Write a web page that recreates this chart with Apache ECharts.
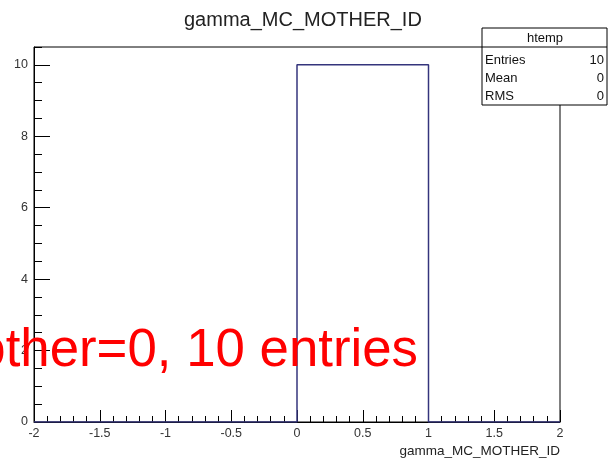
<!DOCTYPE html>
<html>
<head>
<meta charset="utf-8">
<title>gamma_MC_MOTHER_ID</title>
<script src="https://cdn.jsdelivr.net/npm/echarts@6/dist/echarts.min.js"></script>
<style>
  html, body { margin: 0; padding: 0; background: #ffffff; }
  #chart { width: 616px; height: 462px; }
</style>
</head>
<body>
<div id="chart"></div>
<script>
// Histogram "htemp" of gamma_MC_MOTHER_ID: bin low edges and contents
var binEdges = [-2, -1, 0, 1, 2];
var binCounts = [0, 0, 10, 0];

// Statistics box rows
var statsTitle = 'htemp';
var statsLabels = ['Entries', 'Mean', 'RMS'];
var statsValues = ['10', '0', '0'];

var histTitle = 'gamma_MC_MOTHER_ID';
var xTitle = 'gamma_MC_MOTHER_ID';
var note = 'Mother=0, 10 entries';

// Step outline: one point per bin low edge, closed at the last edge
var stepData = [];
for (var i = 0; i < binCounts.length; i++) {
  stepData.push([binEdges[i], binCounts[i]]);
}
stepData.push([binEdges[binEdges.length - 1], 0]);

var FONT = '"Liberation Sans", Arial, Helvetica, sans-serif';
var chart = echarts.init(document.getElementById('chart'), null, { renderer: 'canvas' });

var grid = { left: 34, right: 56, top: 47, bottom: 40 };

var statsGraphic = [
  { type: 'rect', shape: { x: 482, y: 28, width: 125, height: 77 },
    style: { fill: '#ffffff', stroke: '#000000', lineWidth: 1 }, z: 10 },
  { type: 'line', shape: { x1: 482, y1: 47, x2: 607, y2: 47 },
    style: { stroke: '#000000', lineWidth: 1 }, z: 11 },
  { type: 'text', x: 545, y: 38, z: 11,
    style: { text: statsTitle, font: '13px ' + FONT, fill: '#111', align: 'center', verticalAlign: 'middle' } }
];
statsLabels.forEach(function (lab, k) {
  var yy = 60 + k * 18;
  statsGraphic.push({ type: 'text', x: 485, y: yy, z: 11,
    style: { text: lab, font: '13px ' + FONT, fill: '#111', align: 'left', verticalAlign: 'middle' } });
  statsGraphic.push({ type: 'text', x: 604, y: yy, z: 11,
    style: { text: statsValues[k], font: '13px ' + FONT, fill: '#111', align: 'right', verticalAlign: 'middle' } });
});

var option = {
  backgroundColor: '#ffffff',
  animation: false,
  title: {
    text: histTitle,
    left: 179,
    top: 5,
    textStyle: { fontFamily: FONT, fontSize: 20, fontWeight: 'normal', color: '#222' }
  },
  grid: Object.assign({ show: true, borderColor: '#000', borderWidth: 1, backgroundColor: '#fff' }, grid),
  xAxis: {
    type: 'value',
    min: -2, max: 2, interval: 0.5,
    axisLine: { show: true, onZero: false, lineStyle: { color: '#000', width: 1 } },
    axisTick: { show: true, inside: true, length: 12, lineStyle: { color: '#000', width: 1 } },
    minorTick: { show: true, splitNumber: 5, length: 6, lineStyle: { color: '#000', width: 1 } },
    splitLine: { show: false },
    minorSplitLine: { show: false },
    axisLabel: { margin: 5, fontFamily: FONT, fontSize: 12.5, color: '#333' }
  },
  yAxis: [
    {
      // fine ticks every 0.5
      type: 'value',
      min: 0, max: 10.5, interval: 0.5,
      axisLine: { show: true, onZero: false, lineStyle: { color: '#000', width: 1 } },
      axisTick: { show: true, inside: true, length: 8, lineStyle: { color: '#000', width: 1 } },
      splitLine: { show: false },
      axisLabel: { show: false }
    },
    {
      // labelled ticks every 2
      type: 'value',
      position: 'left',
      offset: 0,
      min: 0, max: 10.5, interval: 2,
      axisLine: { show: false, onZero: false },
      axisTick: { show: true, inside: true, length: 16, lineStyle: { color: '#000', width: 1 } },
      splitLine: { show: false },
      axisLabel: { margin: 6, showMaxLabel: false, fontFamily: FONT, fontSize: 12.5, color: '#333' }
    }
  ],
  series: [
    {
      type: 'line',
      step: 'end',
      yAxisIndex: 0,
      data: stepData,
      symbol: 'none',
      lineStyle: { color: '#34347c', width: 1.5 },
      z: 3
    }
  ],
  graphic: statsGraphic.concat([
    { type: 'text', x: 560, y: 451, z: 5,
      style: { text: xTitle, font: '13.5px ' + FONT, fill: '#222', align: 'right', verticalAlign: 'middle' } },
    { type: 'text', x: 418, y: 351, z: 20,
      style: { text: note, font: '52.8px ' + FONT, fill: '#ff0000', align: 'right', verticalAlign: 'middle' } }
  ])
};

chart.setOption(option);
</script>
</body>
</html>
